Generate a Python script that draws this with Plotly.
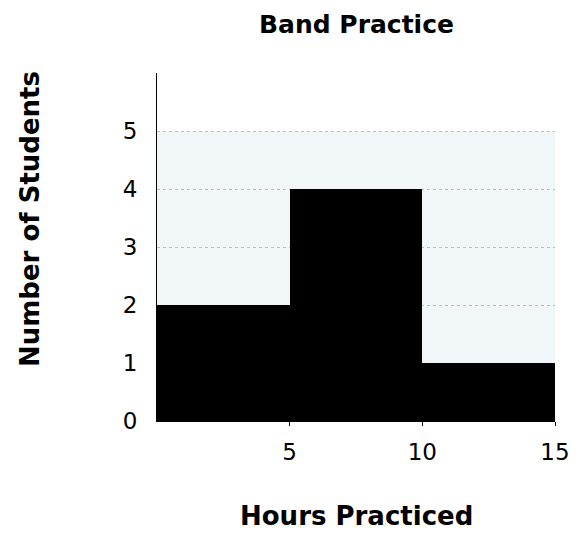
import plotly.graph_objects as go

bin_edges = [0, 5, 10, 15]
counts = [2, 4, 1]
x_ticks = [5, 10, 15]
y_ticks = [0, 1, 2, 3, 4, 5]

centers = [(a + b) / 2 for a, b in zip(bin_edges[:-1], bin_edges[1:])]
widths = [b - a for a, b in zip(bin_edges[:-1], bin_edges[1:])]

FONT = "DejaVu Sans"

fig = go.Figure()
fig.add_trace(go.Bar(x=centers, y=counts, width=widths,
                     marker=dict(color="black", line=dict(width=0)),
                     hoverinfo="skip"))

fig.add_shape(type="rect", xref="x", yref="y", x0=bin_edges[0], x1=bin_edges[-1],
              y0=0, y1=max(y_ticks), fillcolor="#f1f6f9", line=dict(width=0), layer="below")

fig.update_layout(
    width=582, height=533,
    margin=dict(l=157, r=27, t=73, b=112),
    paper_bgcolor="white", plot_bgcolor="white",
    showlegend=False,
    bargap=0,
    font=dict(family=FONT, color="black"),
    xaxis=dict(range=[bin_edges[0], bin_edges[-1]], tickvals=x_ticks,
               ticks="outside", ticklen=4, tickcolor="black", ticklabelstandoff=6,
               showgrid=False, zeroline=False, showline=True, linecolor="black", linewidth=1,
               tickfont=dict(size=23, family=FONT)),
    yaxis=dict(range=[0, 6], tickvals=y_ticks, ticks="", showgrid=True, ticklabelstandoff=14,
               gridcolor="#bdbdbd", griddash="3px,3px", gridwidth=1, zeroline=False,
               showline=True, linecolor="black", linewidth=1,
               tickfont=dict(size=23, family=FONT)),
    annotations=[
        dict(text="<b>Band Practice</b>", xref="paper", yref="paper", x=0.5, y=1 + (73 - 25) / 348,
             xanchor="center", yanchor="middle", showarrow=False, font=dict(size=25, family=FONT)),
        dict(text="<b>Hours Practiced</b>", xref="paper", yref="paper", x=0.5, y=-(516 - 421) / 348,
             xanchor="center", yanchor="middle", showarrow=False, font=dict(size=26, family=FONT)),
        dict(text="<b>Number of Students</b>", xref="paper", yref="paper", x=(30 - 157) / 398,
             y=(421 - 219) / 348, textangle=-90,
             xanchor="center", yanchor="middle", showarrow=False, font=dict(size=26, family=FONT)),
    ],
)

fig.write_html("out.html", config={"displayModeBar": False},
               post_script="document.body.style.margin='0';document.body.style.overflow='hidden';")
